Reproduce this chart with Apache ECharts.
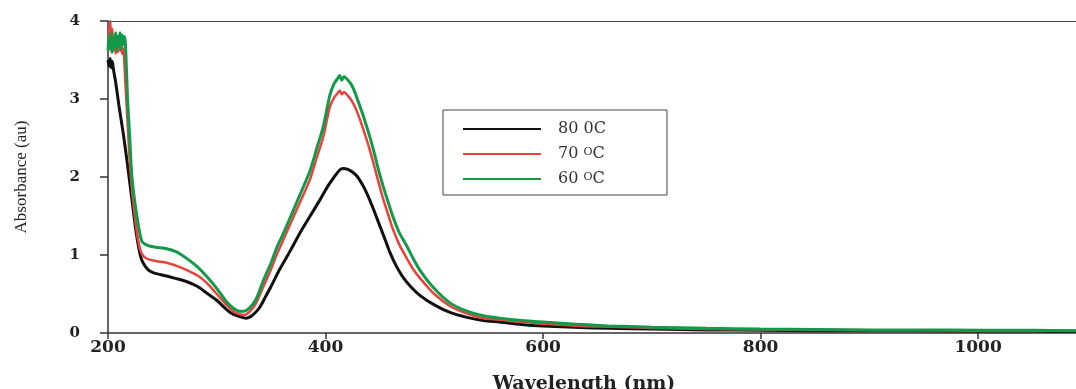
<!DOCTYPE html>
<html>
<head>
<meta charset="utf-8">
<script src="https://cdn.jsdelivr.net/npm/echarts@6/dist/echarts.min.js"></script>
<style>html,body{margin:0;padding:0;background:#fff}#c{width:1076px;height:389px}</style>
</head>
<body>
<div id="c"></div>
<script>
// Series names
const seriesNames = ['80 0C', '70 OC', '60 OC'];
// Axis ticks
const xTicks = [200, 400, 600, 800, 1000];
const yTicks = [0, 1, 2, 3, 4];

// 80 °C (black)
const wl80 = [200,201,202,203,204,205,207,210,214,218,222,226,230,233,237,242,248,254,262,272,282,291,300,309,315,321,327,331,336,340,345,350,358,367,376,385,395,402,408,413,416,420,425,429,434,438,444,450,455,459,465,471,478,487,500,515,530,545,560,580,600,634,660,700,750,800,850,900,950,1000,1050,1090];
const abs80 = [3.50,3.42,3.52,3.40,3.48,3.38,3.22,2.92,2.56,2.15,1.71,1.28,0.98,0.88,0.81,0.77,0.75,0.73,0.70,0.66,0.60,0.51,0.42,0.30,0.24,0.21,0.19,0.21,0.27,0.34,0.47,0.60,0.82,1.04,1.27,1.48,1.71,1.88,2.00,2.09,2.11,2.10,2.06,2.01,1.90,1.79,1.59,1.37,1.19,1.04,0.86,0.72,0.60,0.48,0.36,0.26,0.20,0.16,0.14,0.11,0.09,0.07,0.06,0.05,0.04,0.035,0.03,0.03,0.028,0.025,0.025,0.02];

// 70 °C (red)
const wl70 = [200,201,202,203,204,205,206,207,208,209,210,211,212,213,214,216,218,220,223,227,230,233,238,245,254,263,272,282,291,300,309,315,321,325,330,336,343,350,355,362,370,378,386,392,398,404,408,411,413,415,417,420,423,426,430,435,440,444,448,453,458,462,468,475,480,487,500,515,530,545,560,580,600,634,660,700,750,800,850,900,950,1000,1050,1090];
const abs70 = [3.70,3.85,4.00,3.60,3.90,3.62,3.80,3.58,3.75,3.60,3.72,3.62,3.70,3.58,3.65,3.20,2.70,2.20,1.70,1.25,1.05,0.98,0.94,0.92,0.90,0.86,0.81,0.74,0.64,0.50,0.36,0.28,0.24,0.23,0.27,0.38,0.60,0.82,1.00,1.22,1.47,1.72,1.98,2.25,2.52,2.90,3.02,3.07,3.11,3.06,3.09,3.05,3.00,2.93,2.80,2.60,2.38,2.18,1.97,1.72,1.50,1.33,1.13,0.95,0.83,0.70,0.50,0.34,0.25,0.19,0.17,0.14,0.12,0.09,0.08,0.065,0.05,0.045,0.04,0.035,0.035,0.03,0.03,0.03];

// 60 °C (green)
const wl60 = [200,201,202,203,204,205,206,207,208,209,210,211,212,213,214,215,216,218,220,222,226,231,237,244,254,263,272,282,291,300,309,315,321,325,330,336,343,350,355,362,370,378,386,392,398,404,408,411,413,415,417,420,423,426,430,435,440,444,448,453,458,462,468,475,480,487,500,515,530,545,560,580,600,634,660,700,750,800,850,900,950,1000,1050,1090];
const abs60 = [3.62,3.80,3.65,3.85,3.60,3.78,3.68,3.85,3.62,3.80,3.70,3.85,3.64,3.82,3.70,3.80,3.72,3.00,2.50,2.00,1.55,1.18,1.12,1.10,1.08,1.04,0.96,0.85,0.72,0.57,0.40,0.32,0.28,0.28,0.32,0.43,0.68,0.90,1.09,1.30,1.56,1.82,2.09,2.37,2.65,3.05,3.20,3.26,3.30,3.24,3.29,3.25,3.20,3.12,2.97,2.77,2.55,2.35,2.13,1.88,1.66,1.49,1.28,1.11,0.97,0.80,0.57,0.38,0.28,0.22,0.19,0.16,0.14,0.11,0.09,0.075,0.06,0.05,0.045,0.04,0.04,0.035,0.035,0.03];

const colors = ['#111111', '#e8423c', '#12994a'];
const widths = [3, 2.5, 3];

function pairs(xs, ys) { return xs.map((x, i) => [x, ys[i]]); }
const dataSets = [pairs(wl80, abs80), pairs(wl70, abs70), pairs(wl60, abs60)];

const chart = echarts.init(document.getElementById('c'), null, { renderer: 'canvas' });
chart.setOption({
  animation: false,
  backgroundColor: '#ffffff',
  grid: { left: 108, top: 21, right: 0, bottom: 56, show: false, outerBoundsMode: 'none', containLabel: false },
  legend: {
    orient: 'vertical', left: 443, top: 110,
    padding: [11, 37, 8, 19],
    itemWidth: 78, itemHeight: 14, itemGap: 9,
    borderColor: '#444', borderWidth: 1,
    data: seriesNames,
    itemStyle: { color: 'transparent', borderWidth: 0 },
    formatter: function (n) { return n.replace(' O', ' {s|O}'); },
    textStyle: {
      fontFamily: 'DejaVu Serif', fontSize: 16, lineHeight: 14, color: '#333', padding: [0, 0, 0, 12], width: 72,
      rich: { s: { fontFamily: 'DejaVu Serif', fontSize: 11, lineHeight: 14, color: '#333', verticalAlign: 'top' } }
    }
  },
  xAxis: [{
    type: 'value', min: 200, max: 1090, interval: 200,
    name: 'Wavelength (nm)', nameLocation: 'middle', nameGap: 42,
    nameTextStyle: { fontFamily: 'DejaVu Serif', fontWeight: 'bold', fontSize: 19, color: '#222', padding: [0, 16, 0, 0] },
    axisLine: { show: true, onZero: false, lineStyle: { color: '#333', width: 1.5 } },
    axisTick: { show: true, inside: false, length: 6, lineStyle: { color: '#333', width: 1.5 } },
    axisLabel: { show: true, margin: 6, showMaxLabel: false, fontFamily: 'DejaVu Serif', fontWeight: 'bold', fontSize: 17, color: '#222',
      formatter: function (v) { return xTicks.indexOf(v) >= 0 ? String(v) : ''; } },
    splitLine: { show: false }
  }, {
    type: 'value', position: 'top', min: 200, max: 1090,
    axisLine: { show: true, onZero: false, lineStyle: { color: '#444', width: 1 } },
    axisTick: { show: false }, axisLabel: { show: false }, splitLine: { show: false }
  }],
  yAxis: {
    type: 'value', min: 0, max: 4, interval: 1,
    name: 'Absorbance (au)', nameLocation: 'middle', nameGap: 78,
    nameTextStyle: { fontFamily: 'Liberation Serif', fontSize: 17, color: '#222' },
    axisLine: { show: true, lineStyle: { color: '#333', width: 1.5 } },
    axisTick: { show: true, inside: false, length: 8, lineStyle: { color: '#333', width: 1.5 } },
    axisLabel: { margin: 28, fontFamily: 'DejaVu Serif', fontWeight: 'bold', fontSize: 15, color: '#222',
      formatter: function (v) { return yTicks.indexOf(v) >= 0 ? String(v) : ''; } },
    splitLine: { show: false }
  },
  series: seriesNames.map((n, i) => ({
    name: n, type: 'line', xAxisIndex: 0, data: dataSets[i], symbol: 'none', smooth: 0.25, clip: true,
    lineStyle: { color: colors[i], width: widths[i] }, itemStyle: { color: colors[i] }, z: 2 + i
  }))
});
</script>
</body>
</html>
